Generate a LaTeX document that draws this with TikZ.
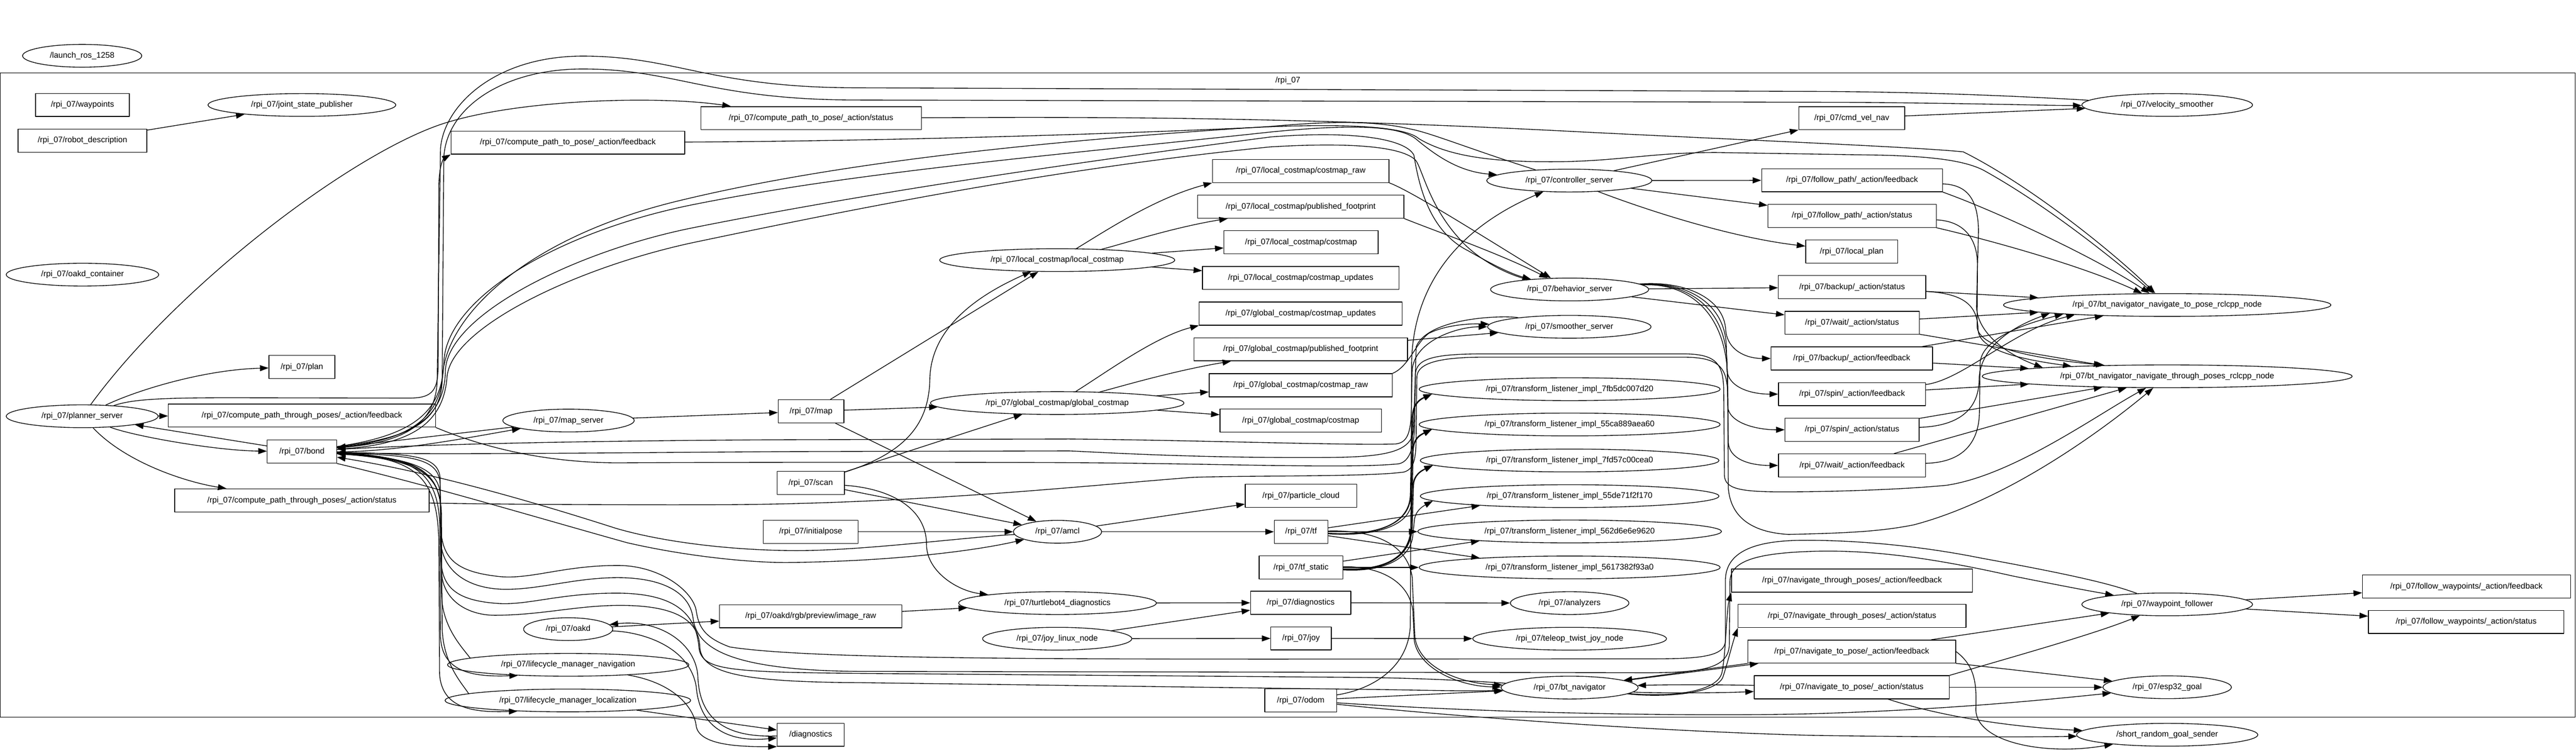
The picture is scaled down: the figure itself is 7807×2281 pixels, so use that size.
\documentclass[tikz,border=0pt]{standalone}
\usepackage{fontspec}
\setmainfont{Liberation Sans}
\usetikzlibrary{shapes.geometric,arrows.meta}
\begin{document}
\begin{tikzpicture}[font=\fontsize{7}{8}\selectfont, line join=round, line cap=round, >={Triangle[length=2.6mm,width=1.8mm]}, x=0.01cm, y=-0.01cm, line width=0.6pt,
	tp/.style={rectangle,draw,minimum width=#1,minimum height=0.7cm,inner sep=0pt},
	nd/.style={ellipse,draw,minimum width=#1,minimum height=0.69cm,inner sep=0pt}]
	\useasboundingbox (0,0) rectangle (7807,2281);
	\draw (0,221) rectangle (7805,2173);%Khung
	\path (3903,244) node (cll) {/rpi\_07};
	\path%Ngoài khung
	(249,169)node[nd=3.61cm](lr){/launch\_ros\_1258}
	(2457,2226)node[tp=2.03cm](diag){/diagnostics}
	(6568,2226)node[nd=5.49cm](srgs){/short\_random\_goal\_sender}
	;
	\path%Cột 1
	(250,318)node[tp=2.84cm](wp){/rpi\_07/waypoints}
	(250,426)node[tp=3.9cm](rd){/rpi\_07/robot\_description}
	(250,832)node[nd=4.62cm](oc){/rpi\_07/oakd\_container}
	(249,1261)node[nd=4.6cm](ps){/rpi\_07/planner\_server}
	;
	\path%Cột 2
	(915,318)node[nd=5.69cm](jsp){/rpi\_07/joint\_state\_publisher}
	(915,1112)node[tp=2cm](plan){/rpi\_07/plan}
	(915,1259)node[tp=8.09cm](cthf){/rpi\_07/compute\_path\_through\_poses/\_action/feedback}
	(915,1368)node[tp=2.1cm](bond){/rpi\_07/bond}
	(915,1516)node[tp=7.71cm](cths){/rpi\_07/compute\_path\_through\_poses/\_action/status}
	;
	\path%Cột 3
	(1721,432)node[tp=7.08cm](ctpf){/rpi\_07/compute\_path\_to\_pose/\_action/feedback}
	(1723,1274)node[nd=3.98cm](ms){/rpi\_07/map\_server}
	(1722,1906)node[nd=2.7cm](oakd){/rpi\_07/oakd}
	(1722,2014)node[nd=7.31cm](lmn){/rpi\_07/lifecycle\_manager\_navigation}
	(1721,2122)node[nd=7.44cm](lml){/rpi\_07/lifecycle\_manager\_localization}
	;
	\path%Cột 4
	(2458,358)node[tp=6.68cm](ctps){/rpi\_07/compute\_path\_to\_pose/\_action/status}
	(2458,1246)node[tp=1.99cm](map){/rpi\_07/map}
	(2457,1463)node[tp=2.04cm](scan){/rpi\_07/scan}
	(2457,1611)node[tp=2.87cm](ip){/rpi\_07/initialpose}
	(2457,1867)node[tp=5.52cm](img){/rpi\_07/oakd/rgb/preview/image\_raw}
	;
	\path%Cột 5
	(3204,788)node[nd=7.12cm](lcm){/rpi\_07/local\_costmap/local\_costmap}
	(3204,1221)node[nd=7.68cm](gcm){/rpi\_07/global\_costmap/global\_costmap}
	(3205,1611)node[nd=2.67cm](amcl){/rpi\_07/amcl}
	(3205,1827)node[nd=5.99cm](tbd){/rpi\_07/turtlebot4\_diagnostics}
	(3204,1935)node[nd=4.52cm](joyl){/rpi\_07/joy\_linux\_node}
	;
	\path%Cột 6
	(3942,518)node[tp=5.35cm](lcr){/rpi\_07/local\_costmap/costmap\_raw}
	(3942,626)node[tp=6.25cm](lpf){/rpi\_07/local\_costmap/published\_footprint}
	(3943,734)node[tp=4.67cm](lcc){/rpi\_07/local\_costmap/costmap}
	(3942,842)node[tp=5.95cm](lcu){/rpi\_07/local\_costmap/costmap\_updates}
	(3942,950)node[tp=6.15cm](gcu){/rpi\_07/global\_costmap/costmap\_updates}
	(3942,1058)node[tp=6.47cm](gpf){/rpi\_07/global\_costmap/published\_footprint}
	(3942,1167)node[tp=5.55cm](gcr){/rpi\_07/global\_costmap/costmap\_raw}
	(3942,1274)node[tp=4.89cm](gcc){/rpi\_07/global\_costmap/costmap}
	(3943,1502)node[tp=3.38cm](pc){/rpi\_07/particle\_cloud}
	(3943,1611)node[tp=1.62cm](tf){/rpi\_07/tf}
	(3943,1719)node[tp=2.54cm](tfs){/rpi\_07/tf\_static}
	(3942,1826)node[tp=3.04cm](rdiag){/rpi\_07/diagnostics}
	(3943,1934)node[tp=1.83cm](joy){/rpi\_07/joy}
	(3942,2122)node[tp=2.17cm](odom){/rpi\_07/odom}
	;
	\path%Cột 7
	(4756,547)node[nd=5cm](cs){/rpi\_07/controller\_server}
	(4757,877)node[nd=4.79cm](bs){/rpi\_07/behavior\_server}
	(4756,990)node[nd=4.95cm](ss){/rpi\_07/smoother\_server}
	(4757,1179)node[nd=9.12cm](tl1){/rpi\_07/transform\_listener\_impl\_7fb5dc007d20}
	(4757,1286)node[nd=9.12cm](tl2){/rpi\_07/transform\_listener\_impl\_55ca889aea60}
	(4757,1395)node[nd=9.05cm](tl3){/rpi\_07/transform\_listener\_impl\_7fd57c00cea0}
	(4757,1503)node[nd=9.05cm](tl4){/rpi\_07/transform\_listener\_impl\_55de71f2f170}
	(4757,1610)node[nd=9.2cm](tl5){/rpi\_07/transform\_listener\_impl\_562d6e6e9620}
	(4757,1719)node[nd=9.12cm](tl6){/rpi\_07/transform\_listener\_impl\_5617382f93a0}
	(4757,1827)node[nd=3.59cm](an){/rpi\_07/analyzers}
	(4757,1935)node[nd=5.87cm](ttj){/rpi\_07/teleop\_twist\_joy\_node}
	(4757,2083)node[nd=4.15cm](btn){/rpi\_07/bt\_navigator}
	;
	\path%Cột 8
	(5612,358)node[tp=3.21cm](cvn){/rpi\_07/cmd\_vel\_nav}
	(5613,546)node[tp=5.48cm](fpf){/rpi\_07/follow\_path/\_action/feedback}
	(5613,654)node[tp=5.1cm](fps){/rpi\_07/follow\_path/\_action/status}
	(5612,762)node[tp=2.79cm](lp){/rpi\_07/local\_plan}
	(5613,870)node[tp=4.47cm](bus){/rpi\_07/backup/\_action/status}
	(5613,978)node[tp=4.07cm](ws){/rpi\_07/wait/\_action/status}
	(5612,1086)node[tp=4.89cm](buf){/rpi\_07/backup/\_action/feedback}
	(5613,1194)node[tp=4.46cm](spf){/rpi\_07/spin/\_action/feedback}
	(5613,1302)node[tp=4.06cm](sps){/rpi\_07/spin/\_action/status}
	(5613,1410)node[tp=4.46cm](wf){/rpi\_07/wait/\_action/feedback}
	(5613,1759)node[tp=7.3cm](ntpf){/rpi\_07/navigate\_through\_poses/\_action/feedback}
	(5613,1866)node[tp=6.9cm](ntps){/rpi\_07/navigate\_through\_poses/\_action/status}
	(5612,1974)node[tp=6.3cm](ntof){/rpi\_07/navigate\_to\_pose/\_action/feedback}
	(5612,2082)node[tp=5.91cm](ntos){/rpi\_07/navigate\_to\_pose/\_action/status}
	;
	\path%Cột 9
	(6568,318)node[nd=5.17cm](vs){/rpi\_07/velocity\_smoother}
	(6568,924)node[nd=9.92cm](bnp){/rpi\_07/bt\_navigator\_navigate\_to\_pose\_rclcpp\_node}
	(6568,1140)node[nd=11.21cm](bntp){/rpi\_07/bt\_navigator\_navigate\_through\_poses\_rclcpp\_node}
	(6568,1831)node[nd=5.17cm](wpf){/rpi\_07/waypoint\_follower}
	(6568,2082)node[nd=3.89cm](esp){/rpi\_07/esp32\_goal}
	;
	\path%Cột 10
	(7475,1777)node[tp=6.3cm](fwf){/rpi\_07/follow\_waypoints/\_action/feedback}
	(7474,1884)node[tp=5.92cm](fws){/rpi\_07/follow\_waypoints/\_action/status}
	;
	%Vẽ
	\draw[->](rd)--(jsp);
	\draw[->](ps)..controls(420,1180)and(620,1120)..(plan);
	\draw[->](ps)--(cthf);
	\draw[->](ps)..controls(400,1320)and(650,1365)..(bond);
	\draw[->](bond)--(ps);
	\draw[->](ps)..controls(380,1400)and(560,1460)..(cths);
	\draw[->](ps)..controls(550,850)and(1100,440)..(1368,367)..controls(1600,300)and(2000,290)..(ctps);
	\draw[->](ps)..controls(400,1210)and(480,1205)..(700,1205)--(1240,1206)..controls(1315,1206)and(1328,1180)..(1328,1100)--(1330,560)..controls(1331,500)and(1345,480)..(ctpf.south west);
	%%% bond
	\draw[->](vs)..controls(6100,290)and(5800,278)..(5500,277)--(2600,266)..controls(2150,266)and(2050,170)..(1766,170)..controls(1500,170)and(1345,320)..(1335,450)--(1325,1150)..controls(1322,1300)and(1200,1340)..(bond);
	\draw[->](bond)..controls(1200,1330)and(1338,1300)..(1340,1150)--(1345,480)..controls(1350,330)and(1520,209)..(1766,209)..controls(2050,209)and(2150,303)..(2600,303)--(5600,310)..controls(6000,313)and(6200,320)..(vs);
	\draw[->](bond)..controls(1250,1320)and(1340,1250)..(1345,1100)..controls(1350,900)and(1700,700)..(2100,620)..controls(2600,520)and(3200,470)..(3850,400)..controls(4150,370)and(4250,390)..(4290,420)..controls(4350,470)and(4420,520)..(cs);
	\draw[->](cs)..controls(4450,450)and(4330,400)..(4270,390)..controls(4150,362)and(4000,370)..(3850,383)..controls(3100,430)and(2500,500)..(2050,610)..controls(1600,720)and(1360,950)..(1342,1130)..controls(1335,1290)and(1200,1335)..(bond);
	\draw[->](bond)..controls(1260,1330)and(1348,1260)..(1350,1120)..controls(1360,950)and(1750,760)..(2100,690)..controls(2600,590)and(3200,500)..(3850,415)..controls(4100,395)and(4260,420)..(4285,470)..controls(4300,560)and(4330,700)..(4450,760)..controls(4520,800)and(4580,830)..(bs);
	\draw[->](bs)..controls(4560,830)and(4470,780)..(4420,720)..controls(4330,620)and(4310,510)..(4290,485)..controls(4250,445)and(4100,430)..(3850,445)..controls(3200,510)and(2600,630)..(2100,735)..controls(1750,810)and(1370,990)..(1355,1140)..controls(1345,1280)and(1250,1345)..(bond);
	\draw[->](ms)--(bond);
	\draw[->](bond)..controls(1200,1370)and(1450,1320)..(ms);
	\draw[->](bond)..controls(1300,1345)and(1800,1335)..(2400,1332)--(3240,1330)..controls(3600,1333)and(4100,1350)..(4230,1345)..controls(4272,1340)and(4278,1300)..(4278,1200)--(4280,1120)..controls(4288,1030)and(4420,990)..(ss);
	\draw[->](ss)..controls(4560,955)and(4330,960)..(4292,1050)--(4284,1300)..controls(4280,1370)and(4200,1386)..(4000,1386)..controls(3600,1388)and(3300,1368)..(3240,1366)--(2400,1368)..controls(1800,1372)and(1300,1378)..(bond);
	\draw[->](bond)..controls(1260,1380)and(1330,1430)..(1333,1600)--(1335,1930)..controls(1340,2030)and(1420,2052)..(lmn.192);
	\draw[->](lmn.176)..controls(1400,1960)and(1340,1900)..(1338,1800)--(1336,1550)..controls(1334,1420)and(1250,1385)..(bond);
	\draw[->](bond)..controls(1260,1385)and(1328,1440)..(1330,1650)--(1332,2040)..controls(1338,2140)and(1420,2160)..(lml.192);
	\draw[->](lml.176)..controls(1400,2070)and(1342,2010)..(1340,1900)--(1338,1560)..controls(1336,1420)and(1255,1390)..(bond);
	\draw[->](amcl)..controls(2900,1630)and(2600,1670)..(2398,1668)..controls(2200,1666)and(2000,1640)..(1865,1600)..controls(1600,1515)and(1300,1430)..(bond);
	\draw[->](bond.south east)..controls(1300,1470)and(1600,1560)..(1900,1644)..controls(2100,1690)and(2300,1706)..(2398,1704)..controls(2700,1700)and(2950,1670)..(amcl);
	\draw[->](wpf)..controls(6400,1770)and(6300,1745)..(6000,1690)..controls(5800,1650)and(5600,1635)..(5450,1637)..controls(5300,1640)and(5229,1680)..(5229,1760)--(5229,1940)..controls(5229,1990)and(5150,1996)..(5000,1996)..controls(3500,1996)and(2500,2005)..(2212,1960)..controls(2130,1930)and(2117,1895)..(2110,1850)..controls(2100,1790)and(2000,1713)..(1872,1713)..controls(1700,1713)and(1600,1760)..(1500,1745)..controls(1380,1730)and(1340,1690)..(1336,1600)--(1334,1450)..controls(1330,1380)and(1250,1375)..(bond);
	\draw[->](bond)..controls(1250,1385)and(1332,1420)..(1334,1500)--(1336,1640)..controls(1340,1730)and(1420,1790)..(1549,1785)..controls(1650,1782)and(1750,1750)..(1872,1750)..controls(2000,1750)and(2088,1790)..(2100,1870)..controls(2110,1960)and(2200,2030)..(2600,2034)--(4942,2038)..controls(5150,2040)and(5241,2030)..(5241,1950)--(5243,1760)..controls(5245,1700)and(5320,1675)..(5502,1670)..controls(5700,1665)and(5900,1700)..(6100,1745)..controls(6250,1775)and(6330,1790)..(wpf);
	\draw[->](btn)..controls(4450,2062)and(4300,2054)..(4100,2052)--(2600,2040)..controls(2200,2036)and(2125,2030)..(2118,1960)..controls(2110,1870)and(2060,1800)..(1880,1797)..controls(1700,1795)and(1600,1835)..(1507,1828)..controls(1400,1820)and(1340,1790)..(1337,1700)--(1334,1470)..controls(1332,1390)and(1260,1380)..(bond);
	\draw[->](bond)..controls(1260,1390)and(1335,1430)..(1336,1550)--(1338,1730)..controls(1340,1820)and(1420,1866)..(1507,1864)..controls(1650,1862)and(1750,1834)..(1880,1834)..controls(2050,1834)and(2118,1880)..(2121,1960)..controls(2125,2040)and(2250,2066)..(2600,2068)--(4100,2088)..controls(4300,2090)and(4450,2095)..(btn);
	%%% compute_path_through_poses
	\draw[->](cthf.south east)..controls(1500,1370)and(1700,1405)..(1900,1402)..controls(2300,1400)and(3000,1400)..(3300,1402)..controls(3700,1405)and(4100,1420)..(4240,1405)..controls(4282,1395)and(4288,1330)..(4288,1250)--(4290,1130)..controls(4295,1085)and(4350,1072)..(4500,1072)--(5100,1072)..controls(5200,1072)and(5222,1100)..(5224,1180)--(5226,1440)..controls(5228,1480)and(5270,1490)..(5400,1490)..controls(5600,1490)and(5800,1480)..(5900,1470)..controls(6100,1440)and(6350,1260)..(bntp);
	\draw[->](cths)..controls(1500,1528)and(1900,1530)..(2200,1529)..controls(2800,1525)and(3300,1470)..(3616,1446)..controls(3800,1440)and(4150,1445)..(4255,1430)..controls(4290,1420)and(4292,1380)..(4292,1300)--(4294,1140)..controls(4298,1100)and(4360,1082)..(4500,1082)--(5100,1082)..controls(5215,1082)and(5235,1115)..(5236,1200)--(5238,1480)..controls(5245,1560)and(5300,1612)..(5420,1619)..controls(5600,1615)and(5700,1610)..(5800,1590)..controls(6100,1511)and(6400,1280)..(bntp);
	%%% map, scan
	\draw[->](ms)--(map);
	\draw[->](map)--(gcm);
	\draw[->](map)--(amcl);
	\draw[->](map)--(lcm);
	\draw[->](scan)--(gcm);
	\draw[->](scan)..controls(2750,1370)and(2815,1280)..(2818,1150)..controls(2820,1000)and(2950,900)..(lcm);
	\draw[->](scan)--(amcl);
	\draw[->](scan)..controls(2700,1480)and(2808,1540)..(2808,1650)..controls(2808,1730)and(2900,1790)..(tbd);
	\draw[->](ip)--(amcl);
	\draw[->](amcl)--(pc);
	\draw[->](amcl)--(tf);
	\draw[->](oakd)--(img);
	\draw[->](img)--(tbd);
	\draw[->](tbd)--(rdiag);
	\draw[->](joyl)--(rdiag);
	\draw[->](joyl)--(joy);
	\draw[->](rdiag)--(an);
	\draw[->](joy)--(ttj);
	%%% costmap
	\draw[->](lcm)..controls(3350,700)and(3500,600)..(lcr.south west);
	\draw[->](lcm)..controls(3400,740)and(3550,690)..(lpf);
	\draw[->](lcm)--(lcc);
	\draw[->](lcm)--(lcu);
	\draw[->](gcm)..controls(3350,1130)and(3500,1020)..(gcu.south west);
	\draw[->](gcm)..controls(3400,1170)and(3550,1125)..(gpf);
	\draw[->](gcm)--(gcr);
	\draw[->](gcm)--(gcc);
	\draw[->](lcr.south east)..controls(4280,580)and(4500,720)..(bs);
	\draw[->](lpf.south east)..controls(4350,700)and(4550,770)..(bs);
	\draw[->](gpf)--(ss);
	\draw[->](gcr.north east)..controls(4270,1110)and(4290,1040)..(4330,1010)..controls(4380,985)and(4450,980)..(ss);
	%%% controller, behavior
	\draw[->](cs)--(cvn);
	\draw[->](cs)--(fpf);
	\draw[->](cs)--(fps);
	\draw[->](cs)..controls(5000,640)and(5250,720)..(lp);
	\draw[->](cvn)--(vs);
	\draw[->](bs)--(bus);
	\draw[->](bs)--(ws);
	\draw[->](bs)..controls(5100,850)and(5225,900)..(5230,1000)..controls(5235,1060)and(5290,1086)..(buf);
	\draw[->](bs)..controls(5100,852)and(5228,910)..(5232,1050)--(5234,1120)..controls(5236,1170)and(5300,1194)..(spf);
	\draw[->](bs)..controls(5100,854)and(5231,920)..(5234,1100)--(5236,1230)..controls(5238,1280)and(5320,1302)..(sps);
	\draw[->](bs)..controls(5100,856)and(5233,930)..(5236,1150)--(5238,1340)..controls(5240,1390)and(5300,1410)..(wf);
	%%% bt navigator rclcpp
	\draw[->](ctps)..controls(3200,355)and(3850,350)..(4800,400)..controls(5300,425)and(5800,445)..(5950,460)..controls(6150,560)and(6400,760)..(bnp);
	\draw[->](ctpf)..controls(2600,428)and(3300,410)..(3850,384)..controls(4100,374)and(4260,385)..(4300,420)..controls(4400,480)and(4550,490)..(4700,490)..controls(4900,490)and(5000,462)..(5200,462)--(5700,470)..controls(5850,474)and(5950,485)..(6010,515)..controls(6200,620)and(6400,780)..(bnp);
	\draw[->](fpf.south east)..controls(6050,640)and(6350,780)..(bnp);
	\draw[->](fpf)..controls(5960,560)and(5995,600)..(5996,700)--(5990,930)..controls(5995,1020)and(6100,1080)..(bntp.176);
	\draw[->](fps.south east)..controls(6000,720)and(6300,800)..(bnp);
	\draw[->](fps)..controls(5950,670)and(5992,720)..(5993,800)--(5992,990)..controls(5995,1050)and(6150,1085)..(bntp.170);
	\draw[->](bus)--(bnp);
	\draw[->](bus)..controls(5960,890)and(5993,930)..(5995,1000)..controls(5998,1060)and(6120,1088)..(bntp.174);
	\draw[->](ws)--(bnp);
	\draw[->](ws)--(bntp);
	\draw[->](buf)--(bnp);
	\draw[->](buf)--(bntp);
	\draw[->](spf)..controls(5950,1150)and(6100,1000)..(bnp.186);
	\draw[->](spf)--(bntp);
	\draw[->](sps)..controls(5950,1290)and(5997,1230)..(5998,1150)..controls(6000,1050)and(6100,990)..(bnp.184);
	\draw[->](sps)--(bntp);
	\draw[->](wf)..controls(5960,1400)and(5997,1330)..(5999,1250)--(6001,1100)..controls(6005,1030)and(6120,985)..(bnp.185);
	\draw[->](wf)--(bntp);
	%%% tf
	\draw[->](tf)--(tl4.186);
	\draw[->](tf)--(tl5);
	\draw[->](tf)--(tl6.174);
	\draw[->](tf)..controls(4150,1622)and(4270,1600)..(4274,1500)--(4280,1260)..controls(4282,1225)and(4300,1210)..(tl1.182);
	\draw[->](tf)..controls(4150,1624)and(4272,1600)..(4276,1500)--(4281,1365)..controls(4283,1330)and(4300,1318)..(tl2.182);
	\draw[->](tf)..controls(4150,1626)and(4274,1600)..(4278,1520)--(4282,1470)..controls(4284,1440)and(4305,1426)..(tl3.182);
	\draw[->](tfs)--(tl5.186);
	\draw[->](tfs)--(tl6);
	\draw[->](tfs)..controls(4180,1727)and(4270,1700)..(4276,1600)--(4282,1260)..controls(4284,1225)and(4302,1212)..(tl1.182);
	\draw[->](tfs)..controls(4180,1729)and(4272,1700)..(4278,1600)--(4283,1365)..controls(4285,1330)and(4302,1320)..(tl2.182);
	\draw[->](tfs)..controls(4180,1731)and(4274,1700)..(4280,1600)--(4284,1470)..controls(4286,1440)and(4306,1428)..(tl3.182);
	\draw[->](tfs)..controls(4180,1733)and(4276,1700)..(4282,1620)--(4286,1580)..controls(4288,1550)and(4308,1536)..(tl4.182);
	\draw[->](tf)..controls(4150,1605)and(4265,1640)..(4280,1750)--(4288,1930)..controls(4300,2020)and(4420,2070)..(btn);
	\draw[->](tfs)..controls(4180,1715)and(4270,1760)..(4282,1850)--(4286,1940)..controls(4300,2030)and(4430,2080)..(btn);
	%%% odom
	\draw[->](odom)--(btn);
	\draw[->](odom)..controls(4150,2090)and(4265,2030)..(4274,1900)--(4278,1100)..controls(4282,880)and(4400,700)..(cs);
	\draw[->](odom)..controls(4600,2165)and(5200,2170)..(5500,2162)..controls(5900,2150)and(6200,2120)..(esp);
	\draw[->](odom)..controls(4400,2170)and(5000,2215)..(5500,2228)..controls(6000,2235)and(6200,2232)..(srgs);
	%%% bt_navigator
	\draw[->](btn)..controls(5050,2112)and(5200,2100)..(5218,2040)..controls(5230,1990)and(5232,1850)..(ntpf.south west);
	\draw[->](btn)..controls(5050,2115)and(5205,2100)..(5222,2050)..controls(5238,2000)and(5250,1950)..(ntps.south west);
	\draw[->](btn)--(ntof);
	\draw[->](ntof.south west)--(btn);
	\draw[->](btn)..controls(5000,2100)and(5200,2100)..(ntos);
	\draw[->](ntos)..controls(5200,2074)and(5050,2074)..(btn);
	\draw[->](ntof)--(wpf);
	\draw[->](ntos.north east)..controls(6100,1990)and(6350,1920)..(wpf);
	\draw[->](ntof)--(esp);
	\draw[->](ntos)--(esp);
	\draw[->](ntos)..controls(5850,2160)and(6050,2200)..(srgs);
	\draw[->](ntof.east)..controls(5990,2020)and(5990,2080)..(5988,2150)..controls(5990,2250)and(6200,2290)..(srgs);
	\draw[->](wpf)--(fwf);
	\draw[->](wpf)--(fws);
	%%% diagnostics
	\draw[->](lml)--(diag);
	\draw[->](lmn)..controls(2050,2070)and(2105,2150)..(2110,2200)..controls(2120,2260)and(2250,2262)..(diag.south west);
	\draw[->](oakd)..controls(1950,1915)and(2090,1960)..(2110,2080)..controls(2120,2200)and(2200,2250)..(diag);
	\draw[->](diag)..controls(2200,2235)and(2120,2180)..(2115,2050)..controls(2110,1950)and(2000,1875)..(oakd);
\end{tikzpicture}
\end{document}
